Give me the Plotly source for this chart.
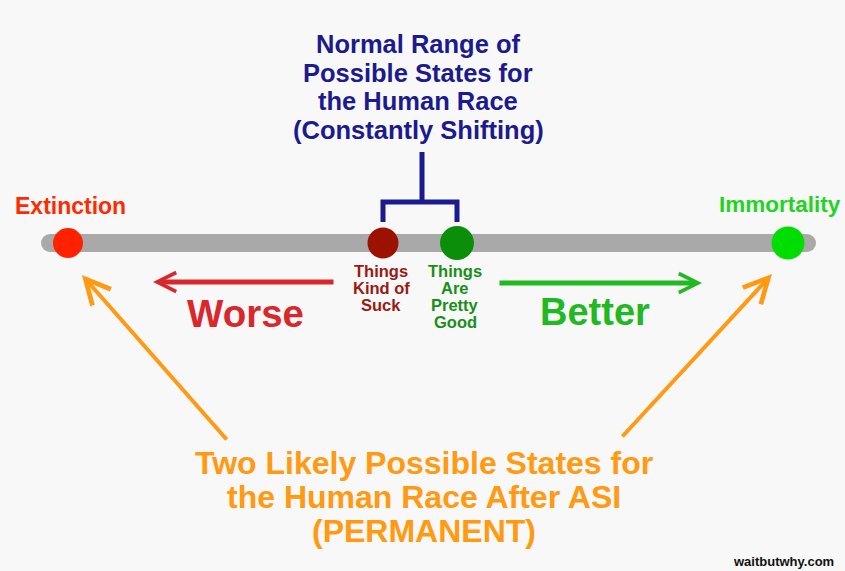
import plotly.graph_objects as go

# ---- data ----
states = ["Extinction", "Things Kind of Suck", "Things Are Pretty Good", "Immortality"]
state_pos = [68, 383, 457, 788]          # position along the spectrum (worse -> better)
state_colors = ["#ff2200", "#9c1200", "#0b8f0b", "#00dd00"]
state_sizes = [30, 31, 34, 33]
spectrum_ends = [50, 807]

title_lines = ["Normal Range of", "Possible States for", "the Human Race", "(Constantly Shifting)"]
bottom_lines = ["Two Likely Possible States for", "the Human Race After ASI", "(PERMANENT)"]
suck_lines = ["Things", "Kind of", "Suck"]
good_lines = ["Things", "Are", "Pretty", "Good"]

W, H = 845, 571
LINE_Y = 243
FONT = "Liberation Sans, Arial, Helvetica, sans-serif"
NAVY = "#1b1b8f"
ORANGE = "#ff9a12"

fig = go.Figure()

# spectrum bar
fig.add_trace(go.Scatter(x=spectrum_ends, y=[LINE_Y, LINE_Y], mode="lines+markers",
                         line=dict(color="#a9a9a9", width=18),
                         marker=dict(size=18, color="#a9a9a9", opacity=1), hoverinfo="skip"))
# state dots
fig.add_trace(go.Scatter(x=state_pos, y=[LINE_Y] * len(state_pos), mode="markers",
                         marker=dict(size=state_sizes, color=state_colors, opacity=1,
                                     line=dict(width=0)),
                         hoverinfo="skip"))
# bracket
bx = [state_pos[1], state_pos[1], state_pos[2], state_pos[2], None, 422, 422]
by = [222, 202, 202, 222, None, 202, 152]
fig.add_trace(go.Scatter(x=bx, y=by, mode="lines", line=dict(color=NAVY, width=5),
                         hoverinfo="skip"))

ann = []
def txt(x, y, s, size, color, bold=True, xanchor="center"):
    ann.append(dict(x=x, y=y, xref="x", yref="y", text=f"<b>{s}</b>" if bold else s,
                    showarrow=False, xanchor=xanchor, yanchor="middle",
                    font=dict(family=FONT, size=size, color=color)))

for i, s in enumerate(title_lines):
    txt(418, 44 + i * 28.5, s, 25.5, NAVY)
for i, s in enumerate(bottom_lines):
    txt(424, 463 + i * 34, s, 32, ORANGE)
for i, s in enumerate(suck_lines):
    txt(381, 271 + i * 17, s, 16.5, "#9c1a14")
for i, s in enumerate(good_lines):
    txt(455, 271 + i * 17, s, 16.5, "#189018")

txt(70, 206, states[0], 23, "#ff2a00")
txt(780, 204, states[3], 22.5, "#22d422")
txt(245, 313, "Worse", 38.5, "#d9282c")
txt(595, 312, "Better", 38, "#22b822")
txt(783, 561, "waitbutwhy.com", 13, "#111111")

def arrow(x, y, ax, ay, color, width, size):
    ann.append(dict(x=x, y=y, ax=ax, ay=ay, xref="x", yref="y", axref="x", ayref="y",
                    text="", showarrow=True, arrowhead=5, arrowsize=size,
                    arrowwidth=width, arrowcolor=color, standoff=0))

arrow(153, 282, 335, 282, "#d9282c", 5, 0.75)
arrow(702, 283, 498, 283, "#22b822", 5, 0.75)
arrow(82, 275, 228, 441, ORANGE, 4, 1.2)
arrow(772, 274, 621, 438, ORANGE, 4, 1.2)

fig.update_layout(width=W, height=H, margin=dict(l=0, r=0, t=0, b=0),
                  paper_bgcolor="#f8f8f8", plot_bgcolor="#f8f8f8",
                  showlegend=False, annotations=ann,
                  xaxis=dict(range=[0, W], visible=False, fixedrange=True),
                  yaxis=dict(range=[H, 0], visible=False, fixedrange=True))
fig.write_html("out.html", config={"displayModeBar": False, "staticPlot": True},
               post_script="document.body.style.margin='0';document.body.style.overflow='hidden';")
